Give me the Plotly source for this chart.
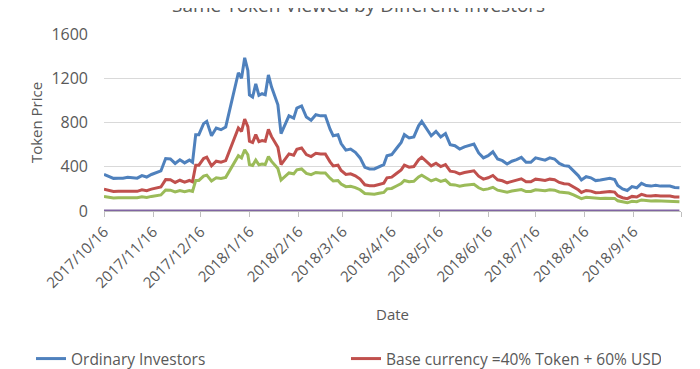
import plotly.graph_objects as go

dates = [
    "2017-10-16","2017-10-19","2017-10-22","2017-10-25","2017-10-28","2017-10-31","2017-11-03","2017-11-06",
    "2017-11-09","2017-11-12","2017-11-15","2017-11-18","2017-11-21","2017-11-24","2017-11-27","2017-11-30",
    "2017-12-03","2017-12-06","2017-12-09","2017-12-11","2017-12-13","2017-12-15","2017-12-18","2017-12-20",
    "2017-12-23","2017-12-26","2017-12-29","2018-01-01","2018-01-04","2018-01-07","2018-01-09","2018-01-11",
    "2018-01-13","2018-01-15","2018-01-16","2018-01-18","2018-01-20","2018-01-22","2018-01-24","2018-01-26",
    "2018-01-28","2018-01-30","2018-02-01","2018-02-03","2018-02-05","2018-02-07","2018-02-10","2018-02-13",
    "2018-02-15","2018-02-18","2018-02-21","2018-02-24","2018-02-27","2018-03-02","2018-03-05","2018-03-08",
    "2018-03-10","2018-03-13","2018-03-15","2018-03-18","2018-03-21","2018-03-24","2018-03-27","2018-03-30",
    "2018-04-02","2018-04-05","2018-04-08","2018-04-11","2018-04-13","2018-04-16","2018-04-19","2018-04-22",
    "2018-04-24","2018-04-27","2018-04-30","2018-05-03","2018-05-05","2018-05-08","2018-05-11","2018-05-14",
    "2018-05-17","2018-05-20","2018-05-23","2018-05-26","2018-05-29","2018-06-01","2018-06-04","2018-06-07",
    "2018-06-10","2018-06-13","2018-06-16","2018-06-19","2018-06-22","2018-06-25","2018-06-28","2018-07-01",
    "2018-07-04","2018-07-07","2018-07-10","2018-07-13","2018-07-16","2018-07-19","2018-07-22","2018-07-25",
    "2018-07-28","2018-07-31","2018-08-03","2018-08-06","2018-08-09","2018-08-12","2018-08-14","2018-08-17",
    "2018-08-20","2018-08-23","2018-08-26","2018-08-29","2018-09-01","2018-09-04","2018-09-06","2018-09-09",
    "2018-09-12","2018-09-15","2018-09-18","2018-09-21","2018-09-24","2018-09-27","2018-09-30","2018-10-03",
    "2018-10-06","2018-10-09","2018-10-12","2018-10-15",
]

ordinary = [
    330,310,295,297,297,305,300,297,
    320,307,330,345,362,474,470,430,
    463,435,460,440,690,690,790,810,
    680,750,735,760,945,1150,1250,1200,
    1385,1270,1050,1030,1150,1045,1060,1050,
    1230,1120,1030,960,700,760,860,840,
    930,950,850,820,870,860,860,740,
    680,690,610,550,560,530,480,395,
    380,380,400,420,500,510,565,620,
    690,660,670,770,810,740,680,720,
    670,700,600,590,560,580,590,605,
    525,480,500,535,470,455,425,450,
    465,485,440,440,480,470,460,480,
    470,430,410,405,365,320,280,310,
    300,275,280,290,295,285,230,200,
    185,220,210,250,230,225,232,225,
    228,225,212,210,
]

base_40_token = [
    198,186,177,178,178,183,180,178,
    192,184,198,207,217,284,282,258,
    278,261,276,264,414,414,474,486,
    408,450,441,456,567,690,750,720,
    831,762,630,618,690,627,636,630,
    738,672,618,576,420,456,516,504,
    558,570,510,492,522,516,516,444,
    408,414,366,330,336,318,288,237,
    228,228,240,252,300,306,339,372,
    414,396,402,462,486,444,408,432,
    402,420,360,354,336,348,354,363,
    315,288,300,321,282,273,255,270,
    279,291,264,264,288,282,276,288,
    282,258,246,243,219,192,168,186,
    180,165,168,174,177,171,138,120,
    111,132,126,150,138,135,139,135,
    137,135,127,126,
]

base_60_token = [
    132,124,118,119,119,122,120,119,
    128,123,132,138,145,190,188,172,
    185,174,184,176,276,276,316,324,
    272,300,294,304,378,460,500,480,
    554,508,420,412,460,418,424,420,
    492,448,412,384,280,304,344,336,
    372,380,340,328,348,344,344,296,
    272,276,244,220,224,212,192,158,
    152,152,160,168,200,204,226,248,
    276,264,268,308,324,296,272,288,
    268,280,240,236,224,232,236,242,
    210,192,200,214,188,182,170,180,
    186,194,176,176,192,188,184,192,
    188,172,164,162,146,128,112,124,
    120,110,112,116,118,114,92,80,
    74,88,84,100,92,90,93,90,
    91,90,85,84,
]

token_base = [1] * len(dates)

series_names = [
    "Ordinary Investors",
    "Base currency =40% Token + 60% USD",
    "Base currency =60% Token + 40% USD",
    "Base currency =100% Token",
]
series_colors = ["#4F81BD", "#C0504D", "#9BBB59", "#8064A2"]

tick_vals = [
    "2017-10-16","2017-11-16","2017-12-16","2018-01-16","2018-02-16","2018-03-16",
    "2018-04-16","2018-05-16","2018-06-16","2018-07-16","2018-08-16","2018-09-16","2018-10-16",
]
tick_text = [
    "2017/10/16","2017/11/16","2017/12/16","2018/1/16","2018/2/16","2018/3/16",
    "2018/4/16","2018/5/16","2018/6/16","2018/7/16","2018/8/16","2018/9/16","",
]

FONT = "Open Sans"
GREY = "#595959"

PLOT_L, PLOT_R, PLOT_T, PLOT_B = 96, 673, 26, 203
PW, PH = PLOT_R - PLOT_L, PLOT_B - PLOT_T

fig = go.Figure()
for name, vals, col in zip(series_names, [ordinary, base_40_token, base_60_token, token_base], series_colors):
    fig.add_trace(go.Scatter(x=dates, y=vals, mode="lines", name=name,
                             line=dict(color=col, width=3)))

fig.update_layout(
    width=700, height=369,
    margin=dict(l=PLOT_L, r=700 - PLOT_R, t=PLOT_T, b=369 - PLOT_B, autoexpand=False),
    paper_bgcolor="white", plot_bgcolor="white",
    font=dict(family=FONT, color=GREY, size=15),
    showlegend=True,
    legend=dict(orientation="h", xref="paper", yref="paper",
                x=(23 - PLOT_L) / PW, y=(PLOT_B - 334) / PH, xanchor="left", yanchor="top",
                entrywidth=270, entrywidthmode="pixels",
                font=dict(size=15.5, color=GREY), tracegroupgap=0, itemwidth=30),
    annotations=[dict(text="Same Token Viewed by Different Investors",
                      xref="paper", yref="paper", x=(350 - PLOT_L) / PW, y=1 + (PLOT_T - 12) / PH,
                      xanchor="center", yanchor="bottom", showarrow=False,
                      font=dict(size=19, color=GREY, family=FONT))],
)

fig.update_xaxes(
    type="date", range=["2017-10-16", "2018-10-16"],
    tickvals=tick_vals, ticktext=tick_text, tickangle=-45,
    ticks="outside", ticklen=5, tickcolor="#BFBFBF",
    showline=True, linecolor="#BFBFBF", showgrid=False, zeroline=False,
    tickfont=dict(size=15, color=GREY), automargin=False,
    title=dict(text="Date", font=dict(size=15, color=GREY), standoff=18),
)
fig.update_yaxes(
    range=[0, 1600], dtick=400, tick0=0,
    showgrid=True, gridcolor="#D9D9D9", gridwidth=1,
    zeroline=False, showline=False, automargin=False,
    ticks="", ticklabelstandoff=15,
    tickfont=dict(size=16, color=GREY),
    title=dict(text="Token Price", font=dict(size=15, color=GREY), standoff=5),
)

fig.write_html("out.html")
